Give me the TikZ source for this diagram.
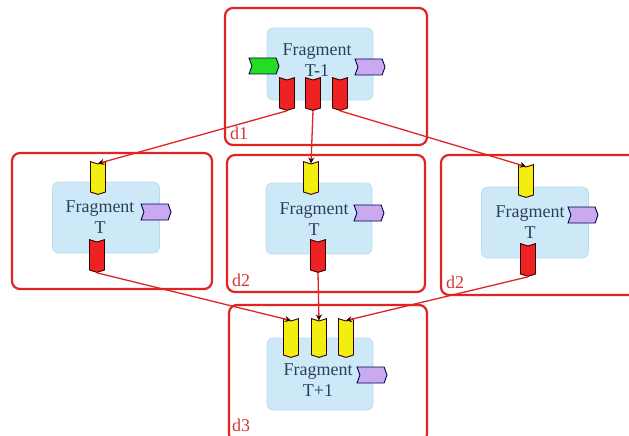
\documentclass[tikz,border=0pt]{standalone}
\usepackage{fontspec}
\setmainfont{Liberation Serif}
\usetikzlibrary{shapes.symbols,arrows.meta}
\definecolor{boxred}{HTML}{E02424}
\definecolor{innerfill}{HTML}{CDE9F8}
\definecolor{innerdraw}{HTML}{B9DDF0}
\definecolor{txt}{HTML}{2A3F5C}
\definecolor{pred}{HTML}{EE2222}
\definecolor{pyel}{HTML}{F2EE10}
\definecolor{ppur}{HTML}{C9AAF0}
\definecolor{pgrn}{HTML}{22DD22}
\definecolor{lbl}{HTML}{D23A3A}
\tikzset{
  outerbox/.style={draw=boxred, line width=2.2pt, rounded corners=8pt, fill=white},
  innerbox/.style={draw=innerdraw, line width=0.6pt, rounded corners=6pt, fill=innerfill},
  vport/.style={signal, signal from=north, signal to=south, signal pointer angle=145,
     minimum width=15pt, minimum height=28pt, inner sep=0pt, draw=black!80!red, line width=0.9pt},
  hport/.style={signal, signal from=west, signal to=east, signal pointer angle=140,
     minimum width=30pt, minimum height=16pt, inner sep=0pt, draw=black!70!blue, line width=0.9pt},
  fragtext/.style={text=txt, font=\fontsize{18}{21}\selectfont, align=center, inner sep=0pt},
  dlabel/.style={text=lbl, font=\fontsize{18}{20}\selectfont, inner sep=0pt, anchor=base west},
  conn/.style={draw=boxred, line width=1.3pt, -{Stealth[length=6pt,width=6pt,color=black!80!red]}}
}
\begin{document}
\begin{tikzpicture}[x=1pt,y=-1pt]
\useasboundingbox (0,0) rectangle (629,436);
% outer boxes
\node[outerbox, minimum width=202pt, minimum height=137pt] (B1) at (326,76.5) {};
\node[outerbox, minimum width=200pt, minimum height=136pt] (BL) at (112,221) {};
\node[outerbox, minimum width=198pt, minimum height=137pt] (BM) at (326,223.5) {};
\node[outerbox, minimum width=196pt, minimum height=140pt] (BR) at (539,225) {};
\node[outerbox, minimum width=198pt, minimum height=137pt] (B3) at (328,373.5) {};
% inner boxes
\node[innerbox, minimum width=106pt, minimum height=72pt] (I1) at (320,64) {};
\node[innerbox, minimum width=107pt, minimum height=71pt] (IL) at (106,217.5) {};
\node[innerbox, minimum width=106pt, minimum height=71pt] (IM) at (319,218.5) {};
\node[innerbox, minimum width=107pt, minimum height=71pt] (IR) at (535,222.5) {};
\node[innerbox, minimum width=106pt, minimum height=72pt] (I3) at (320,374) {};
% texts
\node[fragtext] (t1) at (317,60) {Fragment\\T-1};
\node[fragtext] (tl) at (100,217) {Fragment\\T};
\node[fragtext] (tm) at (314,219) {Fragment\\T};
\node[fragtext] (tr) at (530,222) {Fragment\\T};
\node[fragtext] (t3) at (318,380) {Fragment\\T+1};
% labels
\node[dlabel] (d1) at (230,139) {d1};
\node[dlabel] (d2a) at (232,286) {d2};
\node[dlabel] (d2b) at (446,288) {d2};
\node[dlabel] (d3) at (232,431) {d3};
% ports top
\node[hport, fill=pgrn] (g1) at (264,66) {};
\node[hport, fill=ppur] (u1) at (370,67) {};
\node[vport, fill=pred] (r1a) at (287,94) {};
\node[vport, fill=pred] (r1b) at (313,94) {};
\node[vport, fill=pred] (r1c) at (340,94) {};
% ports left
\node[vport, fill=pyel] (yl) at (98,178) {};
\node[vport, fill=pred] (rl) at (97,256) {};
\node[hport, fill=ppur] (ul) at (156,212) {};
% ports middle
\node[vport, fill=pyel] (ym) at (311,178) {};
\node[vport, fill=pred] (rm) at (318,256) {};
\node[hport, fill=ppur] (um) at (369,213) {};
% ports right
\node[vport, fill=pyel] (yr) at (526,181) {};
\node[vport, fill=pred] (rr) at (528,260) {};
\node[hport, fill=ppur] (ur) at (583,215) {};
% ports bottom
\node[vport, fill=pyel, minimum height=34pt] (y3a) at (291,338) {};
\node[vport, fill=pyel, minimum height=34pt] (y3b) at (319,338) {};
\node[vport, fill=pyel, minimum height=34pt] (y3c) at (346,338) {};
\node[hport, fill=ppur] (u3) at (372,375) {};
% connectors
\draw[conn] (r1a.south) -- (yl.north);
\draw[conn] (r1b.south) -- (ym.north);
\draw[conn] (r1c.south) -- (yr.north);
\draw[conn] (rl.south) -- (y3a.north);
\draw[conn] (rm.south) -- (y3b.north);
\draw[conn] (rr.south) -- (y3c.north);
\end{tikzpicture}
\end{document}
